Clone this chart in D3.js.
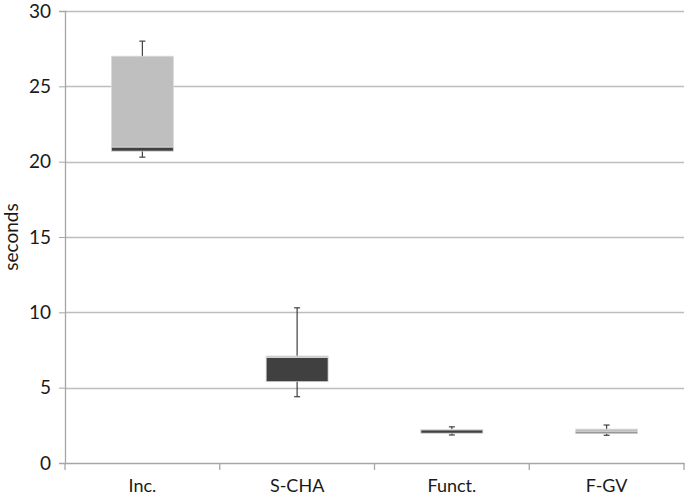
<!DOCTYPE html>
<html lang="en">
<head>
<meta charset="UTF-8">
<title>Box plot</title>
<script src="https://d3js.org/d3.v7.min.js"></script>
<style>
    body { margin: 0; background: #fff; }
    svg { display: block; }
    svg text { font-family: Lato, "Open Sans", sans-serif; }
</style>
</head>
<body>
<svg width="685" height="503"></svg>
<script>
    // Box plot values
    var categories = ["Inc.", "S-CHA", "Funct.", "F-GV"];
    var whiskerLow  = [20.3, 4.4, 1.86, 1.84];
    var q1          = [20.7, 5.4, 1.98, 1.96];
    var median      = [20.97, 7.0, 2.2, 2.06];
    var q3          = [27.0, 7.1, 2.23, 2.25];
    var whiskerHigh = [28.0, 10.3, 2.4, 2.52];
    var yTicks = [0, 5, 10, 15, 20, 25, 30];

    var svg = d3.select("svg"),
        margin = {top: 11, right: 1, bottom: 40, left: 65},
        width = +svg.attr("width") - margin.left - margin.right,
        height = +svg.attr("height") - margin.top - margin.bottom,
        g = svg.append("g").attr("transform", "translate(" + margin.left + "," + margin.top + ")");

    var x = d3.scaleBand().domain(categories).range([0, width]).paddingInner(0).paddingOuter(0);
    var y = d3.scaleLinear().domain([0, 30]).range([height, 0]);

    // gridlines
    g.selectAll(".grid")
        .data(yTicks.filter(function(d) { return d > 0; }))
        .enter().append("line")
        .attr("x1", 0).attr("x2", width)
        .attr("y1", function(d) { return Math.round(y(d)) + 0.5; })
        .attr("y2", function(d) { return Math.round(y(d)) + 0.5; })
        .attr("stroke", "#bdbdbd").attr("stroke-width", 1.3);

    // y axis
    var yAxis = g.append("g")
        .call(d3.axisLeft(y).tickValues(yTicks).tickSize(6).tickPadding(8));
    yAxis.select(".domain").attr("stroke", "#a6a6a6").attr("stroke-width", 1.3);
    yAxis.selectAll(".tick line").attr("stroke", "#a6a6a6");
    yAxis.selectAll(".tick text")
        .attr("font-family", "Lato, 'Open Sans', sans-serif")
        .attr("font-size", "19px").attr("fill", "#1a1a1a");

    // x axis
    var xAxis = g.append("g")
        .attr("transform", "translate(0," + height + ")")
        .call(d3.axisBottom(x).tickSize(0).tickPadding(16));
    xAxis.select(".domain").attr("stroke", "#a6a6a6").attr("stroke-width", 1.3);
    xAxis.selectAll(".tick text")
        .attr("font-family", "Lato, 'Open Sans', sans-serif")
        .attr("font-size", "18px").attr("fill", "#1a1a1a");
    xAxis.selectAll(".sep")
        .data(categories.concat(["end"]))
        .enter().append("line")
        .attr("x1", function(d, i) { return i * x.bandwidth(); })
        .attr("x2", function(d, i) { return i * x.bandwidth(); })
        .attr("y1", 0).attr("y2", 7)
        .attr("stroke", "#a6a6a6").attr("stroke-width", 1.3);

    var boxW = x.bandwidth() * 0.4;
    var boxes = g.selectAll(".box")
        .data(categories)
        .enter().append("g")
        .attr("transform", function(d) { return "translate(" + (x(d) + x.bandwidth() / 2) + ",0)"; });

    // whiskers
    boxes.append("line")
        .attr("x1", 0).attr("x2", 0)
        .attr("y1", function(d, i) { return y(whiskerLow[i]); })
        .attr("y2", function(d, i) { return y(whiskerHigh[i]); })
        .attr("stroke", "#404040").attr("stroke-width", 1.2);
    [whiskerLow, whiskerHigh].forEach(function(arr) {
        boxes.append("line")
            .attr("x1", -3).attr("x2", 3)
            .attr("y1", function(d, i) { return y(arr[i]); })
            .attr("y2", function(d, i) { return y(arr[i]); })
            .attr("stroke", "#404040").attr("stroke-width", 1.2);
    });

    // lower box: q1 to median (dark)
    boxes.append("rect")
        .attr("x", -boxW / 2).attr("width", boxW)
        .attr("y", function(d, i) { return y(median[i]); })
        .attr("height", function(d, i) { return y(q1[i]) - y(median[i]); })
        .attr("fill", "#404040").attr("stroke", "#d0d0d0").attr("stroke-width", 0.8);

    // upper box: median to q3 (light)
    boxes.append("rect")
        .attr("x", -boxW / 2).attr("width", boxW)
        .attr("y", function(d, i) { return y(q3[i]); })
        .attr("height", function(d, i) { return y(median[i]) - y(q3[i]); })
        .attr("fill", "#bfbfbf").attr("stroke", "#d9d9d9").attr("stroke-width", 0.8);

    // y axis title
    svg.append("text")
        .attr("transform", "translate(18," + (margin.top + height / 2) + ") rotate(-90)")
        .attr("text-anchor", "middle")
        .attr("font-family", "Lato, 'Open Sans', sans-serif")
        .attr("font-size", "19px")
        .attr("fill", "#1a1a1a")
        .text("seconds");
</script>
</body>
</html>
